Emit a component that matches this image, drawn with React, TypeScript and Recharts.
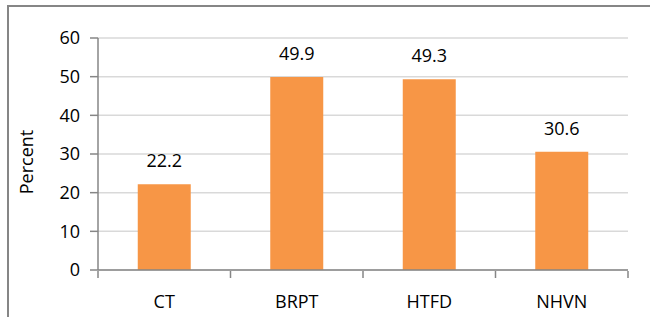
import { BarChart, Bar, XAxis, YAxis, CartesianGrid, LabelList } from 'recharts'

const categories = ['CT', 'BRPT', 'HTFD', 'NHVN']
const percents = [22.2, 49.9, 49.3, 30.6]
const yTicks = [0, 10, 20, 30, 40, 50, 60]
const edgeTicks = [0, 1, 2, 3, 4]

const data = categories.map((name, i) => ({ name, value: percents[i], slot: i + 0.5 }))

const font = '"Open Sans", "Noto Sans", sans-serif'

const NoLabel = () => <g />

export default function App() {
  return (
    <div
      style={{
        position: 'absolute',
        left: 0,
        top: 0,
        width: 650,
        height: 317,
        overflow: 'hidden',
        background: '#fff',
        fontFamily: font
      }}
    >
      <div
        style={{
          position: 'absolute',
          left: 7,
          top: 5,
          width: 800,
          height: 500,
          border: '2px solid #868686'
        }}
      />
      <div style={{ position: 'absolute', left: 0, top: 0 }}>
        <BarChart
          width={650}
          height={317}
          data={data}
          margin={{ top: 38, right: 22, bottom: 0, left: 0 }}
          barCategoryGap="30%"
        >
          <CartesianGrid vertical={false} stroke="#d9d9d9" strokeWidth={1.5} />
          <XAxis
            dataKey="name"
            height={1}
            tickLine={false}
            tickMargin={19}
            axisLine={{ stroke: '#868686', strokeWidth: 1.5 }}
            tick={{ fill: '#000', fontSize: 18, fontFamily: font }}
          />
          <XAxis
            xAxisId="edges"
            dataKey="slot"
            type="number"
            domain={[0, 4]}
            allowDataOverflow
            ticks={edgeTicks}
            interval={0}
            tick={NoLabel}
            tickSize={7}
            height={46}
            axisLine={false}
            tickLine={{ stroke: '#868686', strokeWidth: 1.5 }}
          />
          <YAxis
            width={98}
            domain={[0, 60]}
            ticks={yTicks}
            interval={0}
            tickSize={8}
            tickMargin={10}
            axisLine={{ stroke: '#868686', strokeWidth: 1.5 }}
            tickLine={{ stroke: '#868686', strokeWidth: 1.5 }}
            tick={{ fill: '#000', fontSize: 18, fontFamily: font }}
          />
          <Bar dataKey="value" fill="#f79646" isAnimationActive={false}>
            <LabelList
              dataKey="value"
              position="top"
              offset={17}
              fill="#000"
              fontSize={18}
              fontFamily={font}
            />
          </Bar>
          <text
            x={33}
            y={162}
            transform="rotate(-90 33 162)"
            textAnchor="middle"
            fontSize={18}
            fontFamily={font}
            fill="#000"
          >
            Percent
          </text>
        </BarChart>
      </div>
    </div>
  )
}
